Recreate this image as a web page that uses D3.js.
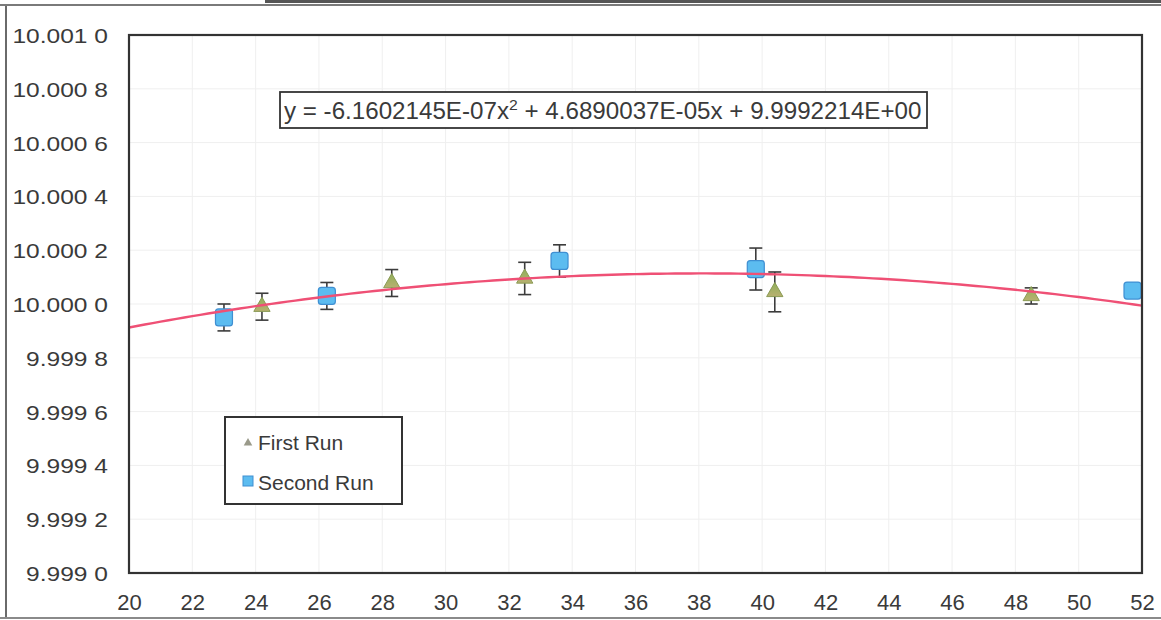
<!DOCTYPE html>
<html>
<head>
<meta charset="utf-8">
<script src="https://cdn.jsdelivr.net/npm/d3@7"></script>
<style>
  html, body { margin: 0; padding: 0; background: #fff; }
  svg { display: block; }
  text { font-family: "Liberation Sans", Arial, sans-serif; fill: #3a3a3a; }
</style>
</head>
<body>
<svg id="chart" width="1161" height="620"></svg>
<script>
// ---- data ----
const xTicks = [20, 22, 24, 26, 28, 30, 32, 34, 36, 38, 40, 42, 44, 46, 48, 50, 52];
const yTicks = [9.9990, 9.9992, 9.9994, 9.9996, 9.9998, 10.0000, 10.0002, 10.0004, 10.0006, 10.0008, 10.0010];
const yTickLabels = ["9.999 0", "9.999 2", "9.999 4", "9.999 6", "9.999 8", "10.000 0", "10.000 2", "10.000 4", "10.000 6", "10.000 8", "10.001 0"];

const firstRunX   = [24.2, 28.3, 32.5, 40.4, 48.5];
const firstRunY   = [9.999990, 10.000078, 10.000095, 10.000045, 10.000030];
const firstRunErr = [0.000050, 0.000050, 0.000060, 0.000074, 0.000030];

const secondRunX   = [23.0, 26.25, 33.6, 39.8, 51.7];
const secondRunY   = [9.999950, 10.000030, 10.000160, 10.000130, 10.000050];
const secondRunErr = [0.000050, 0.000050, 0.000060, 0.000078, 0.000020];

// trendline coefficients as printed on the chart: y = a x^2 + b x + c
const trendCoef = [-6.1602145E-07, 4.6890037E-05, 9.9992214E+00];
const equationParts = ["y = -6.1602145E-07x", "2", " + 4.6890037E-05x + 9.9992214E+00"];
const legendLabels = ["First Run", "Second Run"];

// ---- layout ----
const svg = d3.select("#chart");
const L = 129, R = 1142, T = 35, B = 573;
const x = d3.scaleLinear().domain([20, 52]).range([L, R]);
const y = d3.scaleLinear().domain([9.9990, 10.0010]).range([B, T]);

// outer frame of the scanned figure
svg.append("line").attr("x1", 6).attr("x2", 6).attr("y1", 4).attr("y2", 618).attr("stroke", "#6a6a6a").attr("stroke-width", 2);
svg.append("line").attr("x1", 0).attr("x2", 1161).attr("y1", 5).attr("y2", 5).attr("stroke", "#7a7a7a").attr("stroke-width", 2);
svg.append("line").attr("x1", 265).attr("x2", 1161).attr("y1", 1.5).attr("y2", 1.5).attr("stroke", "#555").attr("stroke-width", 3);
svg.append("line").attr("x1", 0).attr("x2", 1161).attr("y1", 618).attr("y2", 618).attr("stroke", "#8a8a8a").attr("stroke-width", 2);

// gridlines
const grid = svg.append("g");
grid.selectAll(".gx").data(xTicks.slice(1, -1)).join("line")
  .attr("x1", d => x(d)).attr("x2", d => x(d)).attr("y1", T).attr("y2", B)
  .attr("stroke", "#efefef").attr("stroke-width", 1);
grid.selectAll(".gy").data(yTicks.slice(1, -1)).join("line")
  .attr("x1", L).attr("x2", R).attr("y1", d => y(d)).attr("y2", d => y(d))
  .attr("stroke", "#efefef").attr("stroke-width", 1);

// axes (labels only, via d3 axes)
const xAxis = d3.axisBottom(x).tickValues(xTicks).tickSize(0).tickPadding(0).tickFormat(d3.format("d"));
const gx = svg.append("g").attr("transform", `translate(0,${B})`).call(xAxis);
gx.select(".domain").remove();
gx.selectAll("text").attr("dy", null).attr("y", 37).style("font-size", "22px").style("font-family", "Liberation Sans, Arial, sans-serif").attr("fill", "#3a3a3a");

const yAxis = d3.axisLeft(y).tickValues(yTicks).tickSize(0).tickPadding(0)
  .tickFormat((d, i) => yTickLabels[i]);
const gy = svg.append("g").attr("transform", `translate(108,0)`).call(yAxis);
gy.select(".domain").remove();
gy.selectAll("text").attr("x", 0).attr("dy", "0.36em").attr("transform", "scale(1.17,1)")
  .style("font-size", "21px").style("font-family", "Liberation Sans, Arial, sans-serif").attr("fill", "#3a3a3a");

// clip to plot area
svg.append("clipPath").attr("id", "plotclip").append("rect")
  .attr("x", L).attr("y", T).attr("width", R - L).attr("height", B - T);
const plot = svg.append("g").attr("clip-path", "url(#plotclip)");

const first = firstRunX.map((v, i) => ({ x: v, y: firstRunY[i], e: firstRunErr[i] }));
const second = secondRunX.map((v, i) => ({ x: v, y: secondRunY[i], e: secondRunErr[i] }));

function errorBars(data) {
  const g = plot.append("g").attr("stroke", "#3c3c3c").attr("stroke-width", 1.6);
  g.selectAll(".v").data(data).join("line")
    .attr("x1", d => x(d.x)).attr("x2", d => x(d.x))
    .attr("y1", d => y(d.y + d.e)).attr("y2", d => y(d.y - d.e));
  g.selectAll(".t").data(data).join("line")
    .attr("x1", d => x(d.x) - 6.5).attr("x2", d => x(d.x) + 6.5)
    .attr("y1", d => y(d.y + d.e)).attr("y2", d => y(d.y + d.e));
  g.selectAll(".b").data(data).join("line")
    .attr("x1", d => x(d.x) - 6.5).attr("x2", d => x(d.x) + 6.5)
    .attr("y1", d => y(d.y - d.e)).attr("y2", d => y(d.y - d.e));
}
errorBars(first);
errorBars(second);

// gradients
const defs = svg.append("defs");
const tg = defs.append("linearGradient").attr("id", "triGrad").attr("x1", 0).attr("y1", 0).attr("x2", 0).attr("y2", 1);
tg.append("stop").attr("offset", "0%").attr("stop-color", "#8fb05a");
tg.append("stop").attr("offset", "100%").attr("stop-color", "#b8b070");

// markers
plot.append("g").selectAll("path").data(first).join("path")
  .attr("d", d3.symbol(d3.symbolTriangle, 115))
  .attr("transform", d => `translate(${x(d.x)},${y(d.y)})`)
  .attr("fill", "url(#triGrad)").attr("stroke", "#8a9b55").attr("stroke-width", 1);

plot.append("g").selectAll("rect").data(second).join("rect")
  .attr("x", d => x(d.x) - 8.5).attr("y", d => y(d.y) - 8.5)
  .attr("width", 17).attr("height", 17).attr("rx", 3)
  .attr("fill", "#5cbcf0").attr("stroke", "#3f8fd2").attr("stroke-width", 1.2);

// trendline
const trendX = d3.range(20, 52.01, 0.25);
const trend = d3.line().x(d => x(d)).y(d => y(trendCoef[0] * d * d + trendCoef[1] * d + trendCoef[2]));
plot.append("path").datum(trendX).attr("d", trend)
  .attr("fill", "none").attr("stroke", "#ef5075").attr("stroke-width", 2.4);

// plot border
svg.append("rect").attr("x", L).attr("y", T).attr("width", R - L).attr("height", B - T)
  .attr("fill", "none").attr("stroke", "#333").attr("stroke-width", 2.2);

// equation box
svg.append("rect").attr("x", 280).attr("y", 92).attr("width", 647).attr("height", 36)
  .attr("fill", "#fff").attr("stroke", "#333").attr("stroke-width", 1.8);
const eq = svg.append("text").attr("x", 0).attr("y", 0).style("font-size", "23px");
eq.append("tspan").text(equationParts[0]);
eq.append("tspan").attr("dy", -9).style("font-size", "15px").text(equationParts[1]);
eq.append("tspan").attr("dy", 9).text(equationParts[2]);
const eqLen = eq.node().getComputedTextLength();
const sx = 638 / eqLen;
eq.attr("transform", `translate(284,119) scale(${sx},1)`);

// legend
const lg = svg.append("g");
lg.append("rect").attr("x", 225).attr("y", 417).attr("width", 177).attr("height", 87)
  .attr("fill", "#fff").attr("stroke", "#333").attr("stroke-width", 2);
lg.append("path").attr("d", d3.symbol(d3.symbolTriangle, 32))
  .attr("transform", "translate(248,443)").attr("fill", "#9a9a8a");
lg.append("rect").attr("x", 243).attr("y", 476).attr("width", 10).attr("height", 10)
  .attr("fill", "#5cbcf0").attr("stroke", "#3f8fd2").attr("stroke-width", 1);
lg.selectAll("text").data(legendLabels).join("text")
  .attr("x", 258).attr("y", (d, i) => 450 + i * 40)
  .style("font-size", "21px").text(d => d);
</script>
</body>
</html>
